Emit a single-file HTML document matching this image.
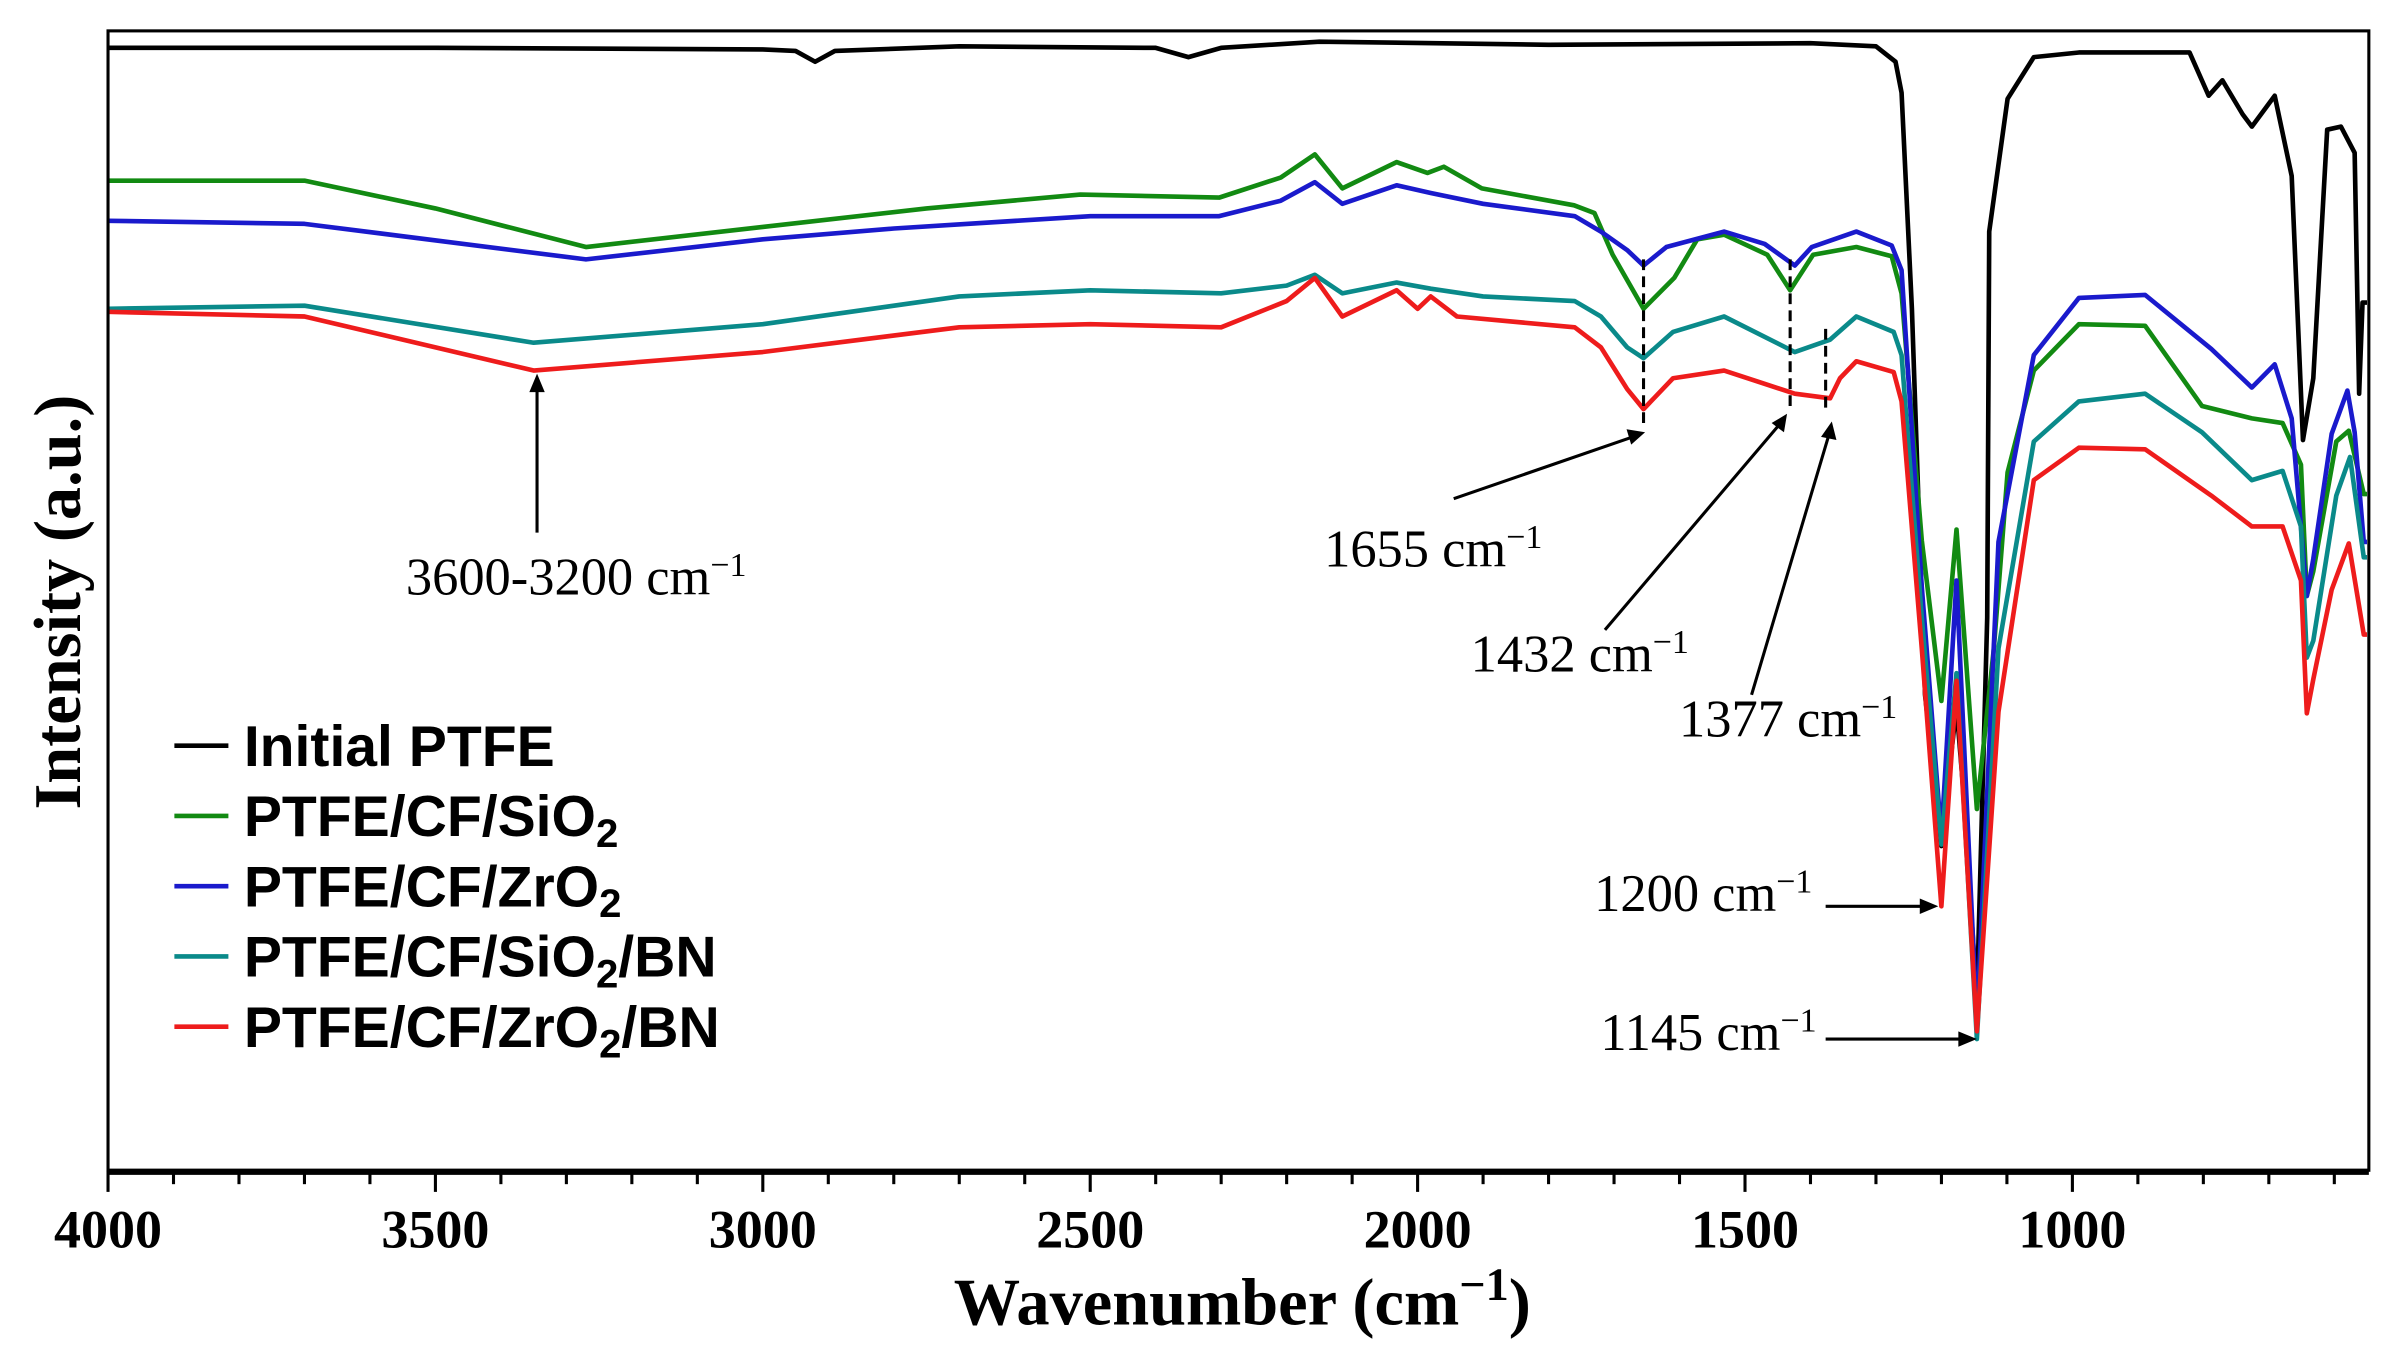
<!DOCTYPE html>
<html><head><meta charset="utf-8"><style>
html,body{margin:0;padding:0;background:#fff;}
svg{display:block;}
</style></head><body>
<svg id="chart" width="2392" height="1354" viewBox="0 0 1550 877" preserveAspectRatio="none" xmlns="http://www.w3.org/2000/svg">
<rect x="0" y="0" width="1550" height="877" fill="#fff"/>
<g id="series"></g>
<g id="axes"></g>
<g id="annot" font-family="Liberation Serif, serif" font-size="34" fill="#000">
  <g>
    <line x1="348" y1="345" x2="348" y2="252" stroke="#000" stroke-width="2"/>
    <polygon points="348,242 343,254 353,254" fill="#000"/>
    <text x="263" y="385">3600-3200 cm<tspan dy="-12" font-size="22">−1</tspan></text>
  </g>
  <g>
    <line x1="1065" y1="168" x2="1065" y2="275" stroke="#000" stroke-width="2" stroke-dasharray="7,4"/>
    <line x1="942" y1="323" x2="1058" y2="283" stroke="#000" stroke-width="2"/>
    <polygon points="1066,280 1054,278 1057,288" fill="#000"/>
    <text x="858" y="367">1655 cm<tspan dy="-12" font-size="22">−1</tspan></text>
  </g>
  <g>
    <line x1="1160" y1="168" x2="1160" y2="265" stroke="#000" stroke-width="2" stroke-dasharray="7,4"/>
    <line x1="1040" y1="408" x2="1153" y2="275" stroke="#000" stroke-width="2"/>
    <polygon points="1158,268 1148,274 1156,280" fill="#000"/>
    <text x="953" y="435">1432 cm<tspan dy="-12" font-size="22">−1</tspan></text>
  </g>
  <g>
    <line x1="1183" y1="213" x2="1183" y2="265" stroke="#000" stroke-width="2" stroke-dasharray="7,4"/>
    <line x1="1135" y1="450" x2="1185" y2="282" stroke="#000" stroke-width="2"/>
    <polygon points="1187,273 1180,283 1190,285" fill="#000"/>
    <text x="1088" y="477">1377 cm<tspan dy="-12" font-size="22">−1</tspan></text>
  </g>
  <g>
    <line x1="1183" y1="587" x2="1246" y2="587" stroke="#000" stroke-width="2"/>
    <polygon points="1256,587 1244,582 1244,592" fill="#000"/>
    <text x="1033" y="590">1200 cm<tspan dy="-12" font-size="22">−1</tspan></text>
  </g>
  <g>
    <line x1="1183" y1="673" x2="1271" y2="673" stroke="#000" stroke-width="2"/>
    <polygon points="1281,673 1269,668 1269,678" fill="#000"/>
    <text x="1037" y="680">1145 cm<tspan dy="-12" font-size="22">−1</tspan></text>
  </g>
</g>
<g id="legend" font-family="Liberation Sans, sans-serif" font-weight="bold" font-size="37"></g>
</svg>
<script>
const blackW=[4000,3500,3000,2950,2920,2890,2700,2400,2350,2300,2150,1800,1400,1300,1270,1261,1245,1225,1200,1185,1177,1165,1146,1130,1127,1099,1059,990,821,792,771,740,726,691,665,648,632,611,590,569,562,557,550];
const blackI=[727,727,726,725,718,725,728,727,721,727,731,729,730,728,718,698,558,308,210,270,300,238,110,358,608,694,721,724,724,696,706,684,676,696,644,473,513,674,676,659,503,562,562];
const greenW=[4000,3700,3500,3270,3000,2750,2515,2303,2209,2157,2115,2032,1985,1960,1902,1761,1730,1702,1655,1608,1573,1532,1466,1431,1396,1330,1276,1261,1230,1200,1177,1146,1120,1099,1059,990,889,802,726,679,651,642,632,597,578,555,550];
const greenI=[641,641,623,598,611,623,632,630,643,658,636,653,646,650,636,625,620,593,558,578,603,606,593,570,593,598,592,568,408,304,415,234,338,452,518,548,547,495,487,484,457,372,388,472,479,438,438];
const blueW=[4000,3700,3270,3000,2800,2500,2303,2209,2157,2115,2032,1980,1900,1760,1720,1680,1655,1620,1532,1470,1424,1398,1330,1276,1261,1230,1200,1177,1146,1113,1059,990,889,788,726,691,665,642,632,604,580,569,555,550];
const blueI=[615,613,590,603,610,618,618,628,640,626,638,633,626,618,608,596,586,598,608,600,586,598,608,599,583,378,216,382,95,407,528,565,567,532,507,522,487,372,396,477,505,478,407,407];
const tealW=[4000,3700,3350,3000,2700,2500,2300,2200,2157,2115,2032,1980,1900,1760,1720,1680,1655,1610,1532,1424,1370,1330,1273,1261,1230,1200,1177,1146,1113,1059,990,889,802,726,679,651,642,632,597,576,555,550];
const tealI=[558,560,536,548,566,570,568,573,580,568,575,571,566,563,553,533,526,543,553,530,538,553,543,528,358,211,322,85,338,472,498,503,478,447,453,417,332,343,437,462,397,397];
const redW=[4000,3700,3350,3000,2700,2500,2300,2200,2157,2115,2032,2000,1980,1940,1760,1720,1680,1655,1610,1532,1424,1370,1355,1330,1273,1261,1230,1200,1177,1146,1113,1059,990,889,788,726,679,651,642,632,604,578,555,550];
const redI=[556,553,518,530,546,548,546,563,578,553,570,558,566,553,546,533,506,493,513,518,503,500,513,524,517,498,338,171,317,90,297,447,468,467,437,417,417,382,296,318,376,406,347,347];
const xTicks=[4000,3500,3000,2500,2000,1500,1000];
const legendLabels=["Initial PTFE","PTFE/CF/SiO|2|","PTFE/CF/ZrO|2|","PTFE/CF/SiO|2|/BN","PTFE/CF/ZrO|2|/BN"];

const NS="http://www.w3.org/2000/svg";
const L=70,R=1535,T=20,B=758;
const X=w=>L+(4000-w)*0.4243;
const Y=v=>B-v;
function mk(tag,attrs,parent){const e=document.createElementNS(NS,tag);for(const k in attrs)e.setAttribute(k,attrs[k]);parent.appendChild(e);return e;}
const sg=document.getElementById('series');
const series=[["initial-ptfe",blackW,blackI,"#000"],["ptfe-cf-sio2",greenW,greenI,"#128a12"],["ptfe-cf-zro2",blueW,blueI,"#1a1acc"],["ptfe-cf-sio2-bn",tealW,tealI,"#0a8a8a"],["ptfe-cf-zro2-bn",redW,redI,"#ee1c1c"]];
[0,1,2,3,4].forEach(i=>{const s=series[i];
  const d=s[1].map((w,j)=>(j?'L':'M')+X(w).toFixed(1)+' '+Y(s[2][j]).toFixed(1)).join(' ');
  const p=mk('path',{d:d,fill:'none',stroke:s[3],'stroke-width':3,'stroke-linejoin':'round'},sg);
  
  
});
const ax=document.getElementById('axes');
const frame=mk('rect',{x:L,y:T,width:R-L,height:B-T,fill:'none',stroke:'#000','stroke-width':2},ax);


const xl=mk('line',{x1:L,y1:B+1,x2:R,y2:B+1,stroke:'#000','stroke-width':4},ax);


for(let w=4000;w>=550;w-=100){const maj=w%500===0;
  const t=mk('line',{x1:X(w),y1:B,x2:X(w),y2:B+(maj?14:9),stroke:'#000','stroke-width':2},ax);
  
  
}
xTicks.forEach(w=>{const t=mk('text',{x:X(w),y:808,'text-anchor':'middle','font-family':'Liberation Serif, serif','font-weight':'bold','font-size':35},ax);t.textContent=w;
  
  
});
const xt=mk('text',{x:805,y:858,'text-anchor':'middle','font-family':'Liberation Serif, serif','font-weight':'bold','font-size':43},ax);
xt.innerHTML='Wavenumber (cm<tspan dy="-16" font-size="30">−1</tspan><tspan dy="16">)</tspan>';


const yt=mk('text',{x:0,y:0,'text-anchor':'middle','font-family':'Liberation Serif, serif','font-weight':'bold','font-size':43,transform:'translate(52,390) rotate(-90)'},ax);
yt.textContent='Intensity (a.u.)';


const lg=document.getElementById('legend');
legendLabels.forEach((lab,i)=>{const y=483+i*45.5;
  const g=mk('g',{},lg);
  
  
  mk('line',{x1:113,y1:y,x2:148,y2:y,stroke:series[i][3],'stroke-width':3},g);
  const parts=lab.split('|');
  let html='<tspan>'+parts[0]+'</tspan>';
  if(parts.length>1){html+='<tspan font-size="26" dy="7">'+parts[1]+'</tspan>';
    if(parts[2])html+='<tspan dy="-7">'+parts[2]+'</tspan>';}
  const t=mk('text',{x:158,y:y+13},g);
  t.innerHTML=html;
});
</script>
</body></html>
